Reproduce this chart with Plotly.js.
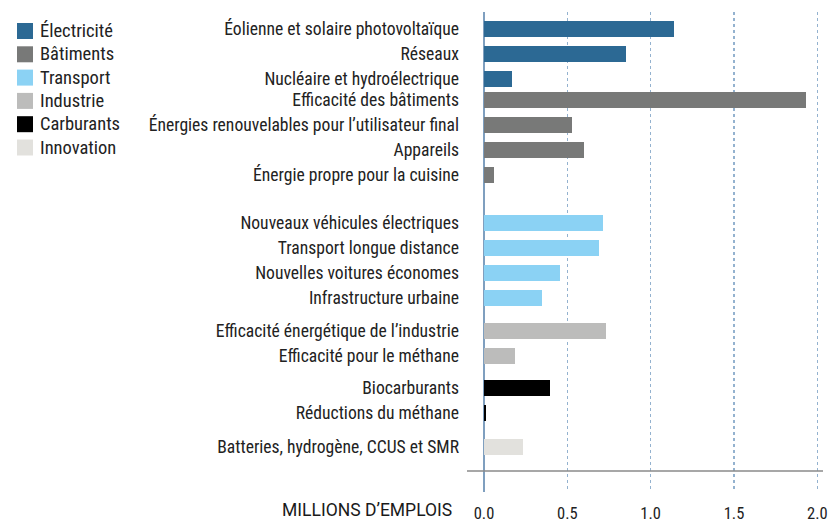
<!DOCTYPE html>
<html>
<head>
<meta charset="utf-8">
<script src="https://cdn.plot.ly/plotly-3.0.1.min.js"></script>
<style>html,body{margin:0;padding:0;background:#fff;}#chart{width:833px;height:522px;}</style>
</head>
<body>
<div id="chart"></div>
<script>
// ---- data ----
const groups = ['Électricité', 'Bâtiments', 'Transport', 'Industrie', 'Carburants', 'Innovation'];
const colors = ['#2c6994', '#787978', '#8bd2f4', '#bcbcbb', '#000000', '#e2e1dd'];

const electriciteCats = ['Éolienne et solaire photovoltaïque', 'Réseaux', 'Nucléaire et hydroélectrique'];
const electriciteVals = [1.14, 0.85, 0.165];

const batimentsCats = ['Efficacité des bâtiments', 'Énergies renouvelables pour l’utilisateur final', 'Appareils', 'Énergie propre pour la cuisine'];
const batimentsVals = [1.93, 0.53, 0.60, 0.057];

const transportCats = ['Nouveaux véhicules électriques', 'Transport longue distance', 'Nouvelles voitures économes', 'Infrastructure urbaine'];
const transportVals = [0.716, 0.692, 0.458, 0.35];

const industrieCats = ['Efficacité énergétique de l’industrie', 'Efficacité pour le méthane'];
const industrieVals = [0.734, 0.188];

const carburantsCats = ['Biocarburants', 'Réductions du méthane'];
const carburantsVals = [0.398, 0.014];

const innovationCats = ['Batteries, hydrogène, CCUS et SMR'];
const innovationVals = [0.236];

const xTicks = [0, 0.5, 1.0, 1.5, 2.0];
const xAxisLabel = 'MILLIONS D’EMPLOIS';

// ---- layout helpers ----
const groupCats = [electriciteCats, batimentsCats, transportCats, industrieCats, carburantsCats, innovationCats];
const groupVals = [electriciteVals, batimentsVals, transportVals, industrieVals, carburantsVals, innovationVals];
const groupGap = [0, -0.16, 0.92, 0.3, 0.3, 0.36];

const FONT = '"Liberation Sans Narrow", "Roboto Condensed", Roboto, "DejaVu Sans Condensed", sans-serif';
const traces = [];
const tickvals = [], ticktext = [];
let pos = 0, offset = 0;
groupCats.forEach((cats, g) => {
  offset += groupGap[g];
  const ys = cats.map((c, i) => pos + i + offset);
  pos += cats.length;
  ys.forEach((y, i) => { tickvals.push(y); ticktext.push(cats[i]); });
  traces.push({
    type: 'bar', orientation: 'h',
    x: groupVals[g], y: ys, name: groups[g],
    width: 0.64,
    marker: {color: colors[g], line: {width: 0}},
    hoverinfo: 'x+text', text: cats, textposition: 'none',
    showlegend: false
  });
});

const shapes = [], annotations = [];
// custom legend
groups.forEach((gname, i) => {
  const top = 23 + i * 23.3;
  shapes.push({type: 'rect', xref: 'paper', yref: 'paper',
    x0: (17 - 467) / 356, x1: (33 - 467) / 356,
    y0: (492 - top) / 480, y1: (492 - top - 16) / 480,
    fillcolor: colors[i], line: {width: 0}});
  annotations.push({xref: 'paper', yref: 'paper', x: (38 - 467) / 356, y: (492 - top - 8) / 480,
    xanchor: 'left', yanchor: 'middle', text: gname, showarrow: false,
    font: {family: FONT, size: 18.5, color: '#222'}});
});
// horizontal baseline
shapes.push({type: 'line', xref: 'paper', yref: 'y', x0: 0, x1: 1, y0: 17.68, y1: 17.68,
  line: {color: '#8a8a8a', width: 1.5}});
annotations.push({xref: 'paper', yref: 'paper', x: (454 - 467) / 356, y: -29.5 / 480,
  xanchor: 'right', yanchor: 'bottom', text: xAxisLabel, showarrow: false,
  font: {family: 'Roboto, sans-serif', size: 17.5, color: '#1a1a1a'}});

const layout = {
  width: 833, height: 522,
  margin: {l: 467, r: 10, t: 12, b: 30},
  paper_bgcolor: '#fff', plot_bgcolor: '#fff',
  bargap: 0,
  xaxis: {
    range: [-0.102, 2.034], tickvals: xTicks, tickformat: '.1f',
    showgrid: true, gridcolor: '#94b2cf', griddash: 'dot', gridwidth: 1.5,
    zeroline: true, zerolinecolor: '#7f9fbf', zerolinewidth: 2,
    showline: false, ticks: '', ticklabelstandoff: 9,
    tickfont: {family: FONT, size: 16.5, color: '#222'}, automargin: false, fixedrange: true
  },
  yaxis: {
    range: [18.52, -0.68], tickvals: tickvals, ticktext: ticktext,
    showgrid: false, zeroline: false, showline: false, ticks: '', ticklabelstandoff: 7,
    tickfont: {family: FONT, size: 17.6, color: '#222'}, automargin: false, fixedrange: true
  },
  shapes: shapes, annotations: annotations, showlegend: false
};

Plotly.newPlot('chart', traces, layout, {displayModeBar: false, staticPlot: true});
</script>
</body>
</html>
